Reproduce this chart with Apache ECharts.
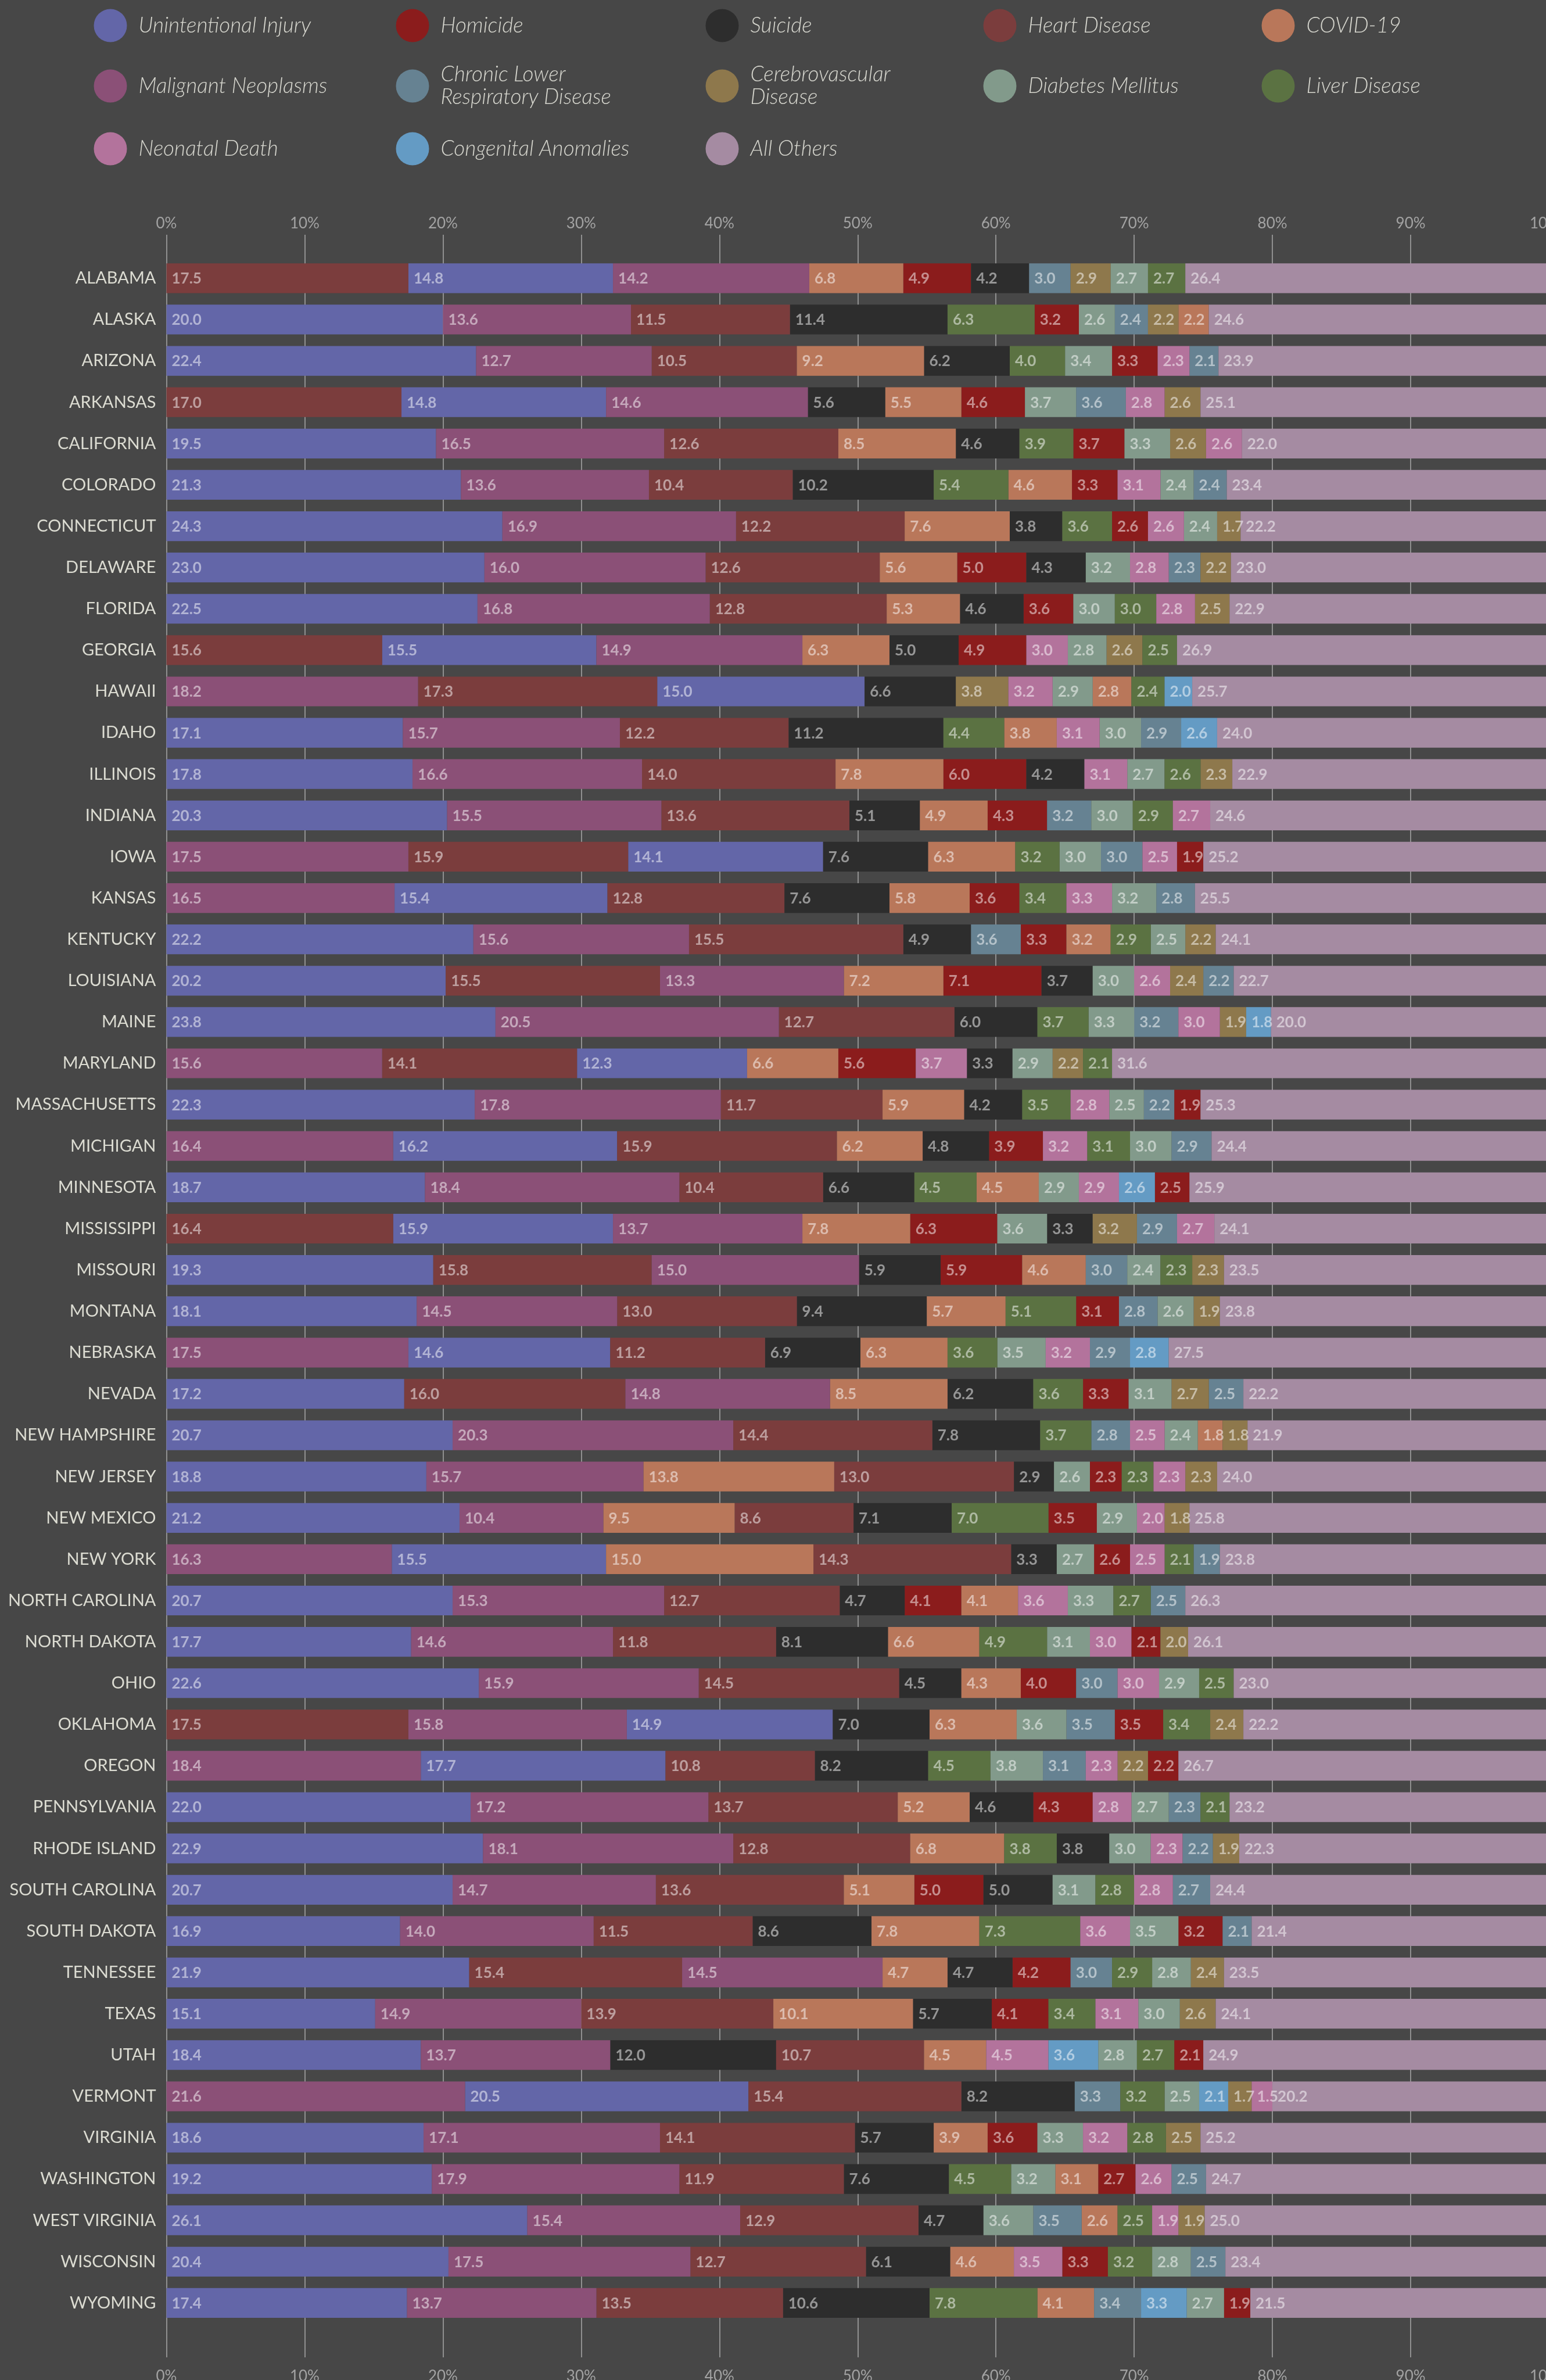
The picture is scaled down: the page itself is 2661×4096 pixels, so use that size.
<!DOCTYPE html>
<html>
<head>
    <meta charset="utf-8">
    <title>Leading causes of death, by state</title>
    <script src="https://cdn.jsdelivr.net/npm/echarts@6/dist/echarts.min.js"></script>
    <style>
        html, body { margin: 0; padding: 0; background: #474747; }
        #main { width: 2661px; height: 4096px; }
    </style>
</head>
<body>
    <div id="main"></div>
    <script>
        var states = ['ALABAMA', 'ALASKA', 'ARIZONA', 'ARKANSAS', 'CALIFORNIA', 'COLORADO', 'CONNECTICUT', 'DELAWARE', 'FLORIDA', 'GEORGIA',
            'HAWAII', 'IDAHO', 'ILLINOIS', 'INDIANA', 'IOWA', 'KANSAS', 'KENTUCKY', 'LOUISIANA', 'MAINE', 'MARYLAND',
            'MASSACHUSETTS', 'MICHIGAN', 'MINNESOTA', 'MISSISSIPPI', 'MISSOURI', 'MONTANA', 'NEBRASKA', 'NEVADA', 'NEW HAMPSHIRE', 'NEW JERSEY',
            'NEW MEXICO', 'NEW YORK', 'NORTH CAROLINA', 'NORTH DAKOTA', 'OHIO', 'OKLAHOMA', 'OREGON', 'PENNSYLVANIA', 'RHODE ISLAND', 'SOUTH CAROLINA',
            'SOUTH DAKOTA', 'TENNESSEE', 'TEXAS', 'UTAH', 'VERMONT', 'VIRGINIA', 'WASHINGTON', 'WEST VIRGINIA', 'WISCONSIN', 'WYOMING'];

        // cause codes, in legend order
        var causeCodes = ['U', 'HO', 'S', 'HD', 'C', 'M', 'CL', 'CV', 'D', 'L', 'N', 'CA', 'O'];
        var causeNames = ['Unintentional Injury', 'Homicide', 'Suicide', 'Heart Disease', 'COVID-19',
            'Malignant Neoplasms', 'Chronic Lower Respiratory Disease', 'Cerebrovascular Disease', 'Diabetes Mellitus', 'Liver Disease',
            'Neonatal Death', 'Congenital Anomalies', 'All Others'];
        var causeLabels = ['Unintentional Injury', 'Homicide', 'Suicide', 'Heart Disease', 'COVID-19',
            'Malignant Neoplasms', 'Chronic Lower\nRespiratory Disease', 'Cerebrovascular\nDisease', 'Diabetes Mellitus', 'Liver Disease',
            'Neonatal Death', 'Congenital Anomalies', 'All Others'];
        var causeColors = ['#6366a8', '#8b1c1c', '#2d2d2d', '#7b3d3d', '#b9775a',
            '#8b5077', '#668292', '#8e784c', '#829a8b', '#5b7242',
            '#b3739c', '#649bc4', '#a58ba2'];

        // order of segments per state (left to right) and their shares (%)
        var segOrder = [
            'HD U M C HO S CL CV D L O',
            'U M HD S L HO D CL CV C O',
            'U M HD C S L D HO N CL O',
            'HD U M S C HO D CL N CV O',
            'U M HD C S L HO D CV N O',
            'U M HD S L C HO N D CL O',
            'U M HD C S L HO N D CV O',
            'U M HD C HO S D N CL CV O',
            'U M HD C S HO D L N CV O',
            'HD U M C S HO N D CV L O',
            'M HD U S CV N D C L CA O',
            'U M HD S L C N D CL CA O',
            'U M HD C HO S N D L CV O',
            'U M HD S C HO CL D L N O',
            'M HD U S C L D CL N HO O',
            'M U HD S C HO L N D CL O',
            'U M HD S CL HO C L D CV O',
            'U HD M C HO S D N CV CL O',
            'U M HD S L D CL N CV CA O',
            'M HD U C HO N S D CV L O',
            'U M HD C S L N D CL HO O',
            'M U HD C S HO N L D CL O',
            'U M HD S L C D N CA HO O',
            'HD U M C HO D S CV CL N O',
            'U HD M S HO C CL D L CV O',
            'U M HD S C L HO CL D CV O',
            'M U HD S C L D N CL CA O',
            'U HD M C S L HO D CV CL O',
            'U M HD S L CL N D C CV O',
            'U M C HD S D HO L N CV O',
            'U M C HD S L HO D N CV O',
            'M U C HD S D HO N L CL O',
            'U M HD S HO C N D L CL O',
            'U M HD S C L D N HO CV O',
            'U M HD S C HO CL N D L O',
            'HD M U S C D CL HO L CV O',
            'M U HD S L D CL N CV HO O',
            'U M HD C S HO N D CL L O',
            'U M HD C L S D N CL CV O',
            'U M HD C HO S D L N CL O',
            'U M HD S C L N D HO CL O',
            'U HD M C S HO CL L D CV O',
            'U M HD C S HO L N D CV O',
            'U M S HD C N CA D L HO O',
            'M U HD S CL L D CA CV N O',
            'U M HD S C HO D N L CV O',
            'U M HD S L D C HO N CL O',
            'U M HD S D CL C L N CV O',
            'U M HD S C N HO L D CL O',
            'U M HD S L C CL CA D HO O'
        ];
        var segShare = [
            [17.5, 14.8, 14.2, 6.8, 4.9, 4.2, 3.0, 2.9, 2.7, 2.7, 26.4],
            [20.0, 13.6, 11.5, 11.4, 6.3, 3.2, 2.6, 2.4, 2.2, 2.2, 24.6],
            [22.4, 12.7, 10.5, 9.2, 6.2, 4.0, 3.4, 3.3, 2.3, 2.1, 23.9],
            [17.0, 14.8, 14.6, 5.6, 5.5, 4.6, 3.7, 3.6, 2.8, 2.6, 25.1],
            [19.5, 16.5, 12.6, 8.5, 4.6, 3.9, 3.7, 3.3, 2.6, 2.6, 22.0],
            [21.3, 13.6, 10.4, 10.2, 5.4, 4.6, 3.3, 3.1, 2.4, 2.4, 23.4],
            [24.3, 16.9, 12.2, 7.6, 3.8, 3.6, 2.6, 2.6, 2.4, 1.7, 22.2],
            [23.0, 16.0, 12.6, 5.6, 5.0, 4.3, 3.2, 2.8, 2.3, 2.2, 23.0],
            [22.5, 16.8, 12.8, 5.3, 4.6, 3.6, 3.0, 3.0, 2.8, 2.5, 22.9],
            [15.6, 15.5, 14.9, 6.3, 5.0, 4.9, 3.0, 2.8, 2.6, 2.5, 26.9],
            [18.2, 17.3, 15.0, 6.6, 3.8, 3.2, 2.9, 2.8, 2.4, 2.0, 25.7],
            [17.1, 15.7, 12.2, 11.2, 4.4, 3.8, 3.1, 3.0, 2.9, 2.6, 24.0],
            [17.8, 16.6, 14.0, 7.8, 6.0, 4.2, 3.1, 2.7, 2.6, 2.3, 22.9],
            [20.3, 15.5, 13.6, 5.1, 4.9, 4.3, 3.2, 3.0, 2.9, 2.7, 24.6],
            [17.5, 15.9, 14.1, 7.6, 6.3, 3.2, 3.0, 3.0, 2.5, 1.9, 25.2],
            [16.5, 15.4, 12.8, 7.6, 5.8, 3.6, 3.4, 3.3, 3.2, 2.8, 25.5],
            [22.2, 15.6, 15.5, 4.9, 3.6, 3.3, 3.2, 2.9, 2.5, 2.2, 24.1],
            [20.2, 15.5, 13.3, 7.2, 7.1, 3.7, 3.0, 2.6, 2.4, 2.2, 22.7],
            [23.8, 20.5, 12.7, 6.0, 3.7, 3.3, 3.2, 3.0, 1.9, 1.8, 20.0],
            [15.6, 14.1, 12.3, 6.6, 5.6, 3.7, 3.3, 2.9, 2.2, 2.1, 31.6],
            [22.3, 17.8, 11.7, 5.9, 4.2, 3.5, 2.8, 2.5, 2.2, 1.9, 25.3],
            [16.4, 16.2, 15.9, 6.2, 4.8, 3.9, 3.2, 3.1, 3.0, 2.9, 24.4],
            [18.7, 18.4, 10.4, 6.6, 4.5, 4.5, 2.9, 2.9, 2.6, 2.5, 25.9],
            [16.4, 15.9, 13.7, 7.8, 6.3, 3.6, 3.3, 3.2, 2.9, 2.7, 24.1],
            [19.3, 15.8, 15.0, 5.9, 5.9, 4.6, 3.0, 2.4, 2.3, 2.3, 23.5],
            [18.1, 14.5, 13.0, 9.4, 5.7, 5.1, 3.1, 2.8, 2.6, 1.9, 23.8],
            [17.5, 14.6, 11.2, 6.9, 6.3, 3.6, 3.5, 3.2, 2.9, 2.8, 27.5],
            [17.2, 16.0, 14.8, 8.5, 6.2, 3.6, 3.3, 3.1, 2.7, 2.5, 22.2],
            [20.7, 20.3, 14.4, 7.8, 3.7, 2.8, 2.5, 2.4, 1.8, 1.8, 21.9],
            [18.8, 15.7, 13.8, 13.0, 2.9, 2.6, 2.3, 2.3, 2.3, 2.3, 24.0],
            [21.2, 10.4, 9.5, 8.6, 7.1, 7.0, 3.5, 2.9, 2.0, 1.8, 25.8],
            [16.3, 15.5, 15.0, 14.3, 3.3, 2.7, 2.6, 2.5, 2.1, 1.9, 23.8],
            [20.7, 15.3, 12.7, 4.7, 4.1, 4.1, 3.6, 3.3, 2.7, 2.5, 26.3],
            [17.7, 14.6, 11.8, 8.1, 6.6, 4.9, 3.1, 3.0, 2.1, 2.0, 26.1],
            [22.6, 15.9, 14.5, 4.5, 4.3, 4.0, 3.0, 3.0, 2.9, 2.5, 23.0],
            [17.5, 15.8, 14.9, 7.0, 6.3, 3.6, 3.5, 3.5, 3.4, 2.4, 22.2],
            [18.4, 17.7, 10.8, 8.2, 4.5, 3.8, 3.1, 2.3, 2.2, 2.2, 26.7],
            [22.0, 17.2, 13.7, 5.2, 4.6, 4.3, 2.8, 2.7, 2.3, 2.1, 23.2],
            [22.9, 18.1, 12.8, 6.8, 3.8, 3.8, 3.0, 2.3, 2.2, 1.9, 22.3],
            [20.7, 14.7, 13.6, 5.1, 5.0, 5.0, 3.1, 2.8, 2.8, 2.7, 24.4],
            [16.9, 14.0, 11.5, 8.6, 7.8, 7.3, 3.6, 3.5, 3.2, 2.1, 21.4],
            [21.9, 15.4, 14.5, 4.7, 4.7, 4.2, 3.0, 2.9, 2.8, 2.4, 23.5],
            [15.1, 14.9, 13.9, 10.1, 5.7, 4.1, 3.4, 3.1, 3.0, 2.6, 24.1],
            [18.4, 13.7, 12.0, 10.7, 4.5, 4.5, 3.6, 2.8, 2.7, 2.1, 24.9],
            [21.6, 20.5, 15.4, 8.2, 3.3, 3.2, 2.5, 2.1, 1.7, 1.5, 20.2],
            [18.6, 17.1, 14.1, 5.7, 3.9, 3.6, 3.3, 3.2, 2.8, 2.5, 25.2],
            [19.2, 17.9, 11.9, 7.6, 4.5, 3.2, 3.1, 2.7, 2.6, 2.5, 24.7],
            [26.1, 15.4, 12.9, 4.7, 3.6, 3.5, 2.6, 2.5, 1.9, 1.9, 25.0],
            [20.4, 17.5, 12.7, 6.1, 4.6, 3.5, 3.3, 3.2, 2.8, 2.5, 23.4],
            [17.4, 13.7, 13.5, 10.6, 7.8, 4.1, 3.4, 3.3, 2.7, 1.9, 21.5]
        ];
        var xTicks = [0, 10, 20, 30, 40, 50, 60, 70, 80, 90, 100];

        var FONT = 'Lato, "Open Sans", sans-serif';
        var myChart = echarts.init(document.getElementById('main'));

        // one [start, end, stateIndex, share] list per cause
        var causeData = causeCodes.map(function () { return []; });
        segOrder.forEach(function (row, i) {
            var codes = row.split(' ');
            var start = 0;
            codes.forEach(function (code, j) {
                var v = segShare[i][j];
                causeData[causeCodes.indexOf(code)].push([start, start + v, i, v]);
                start += v;
            });
        });

        function renderSeg(params, api) {
            var cat = api.value(2);
            var a = api.coord([api.value(0), cat]);
            var b = api.coord([api.value(1), cat]);
            var h = api.size([0, 1])[1] * 0.72;
            return {
                type: 'group',
                children: [
                    {
                        type: 'rect',
                        shape: { x: a[0], y: a[1] - h / 2, width: b[0] - a[0], height: h },
                        style: { fill: api.visual('color') },
                        z2: 0
                    },
                    {
                        type: 'text',
                        x: a[0] + 9,
                        y: a[1] + 1,
                        style: {
                            text: api.value(3).toFixed(1),
                            fill: 'rgba(255,255,255,0.5)',
                            fontSize: 26,
                            fontFamily: FONT,
                            fontWeight: 'bold',
                            align: 'left',
                            verticalAlign: 'middle'
                        },
                        z2: 100
                    }
                ]
            };
        }

        var colX = [190, 710, 1243, 1721, 2200];
        var rowY = [44, 148, 256];
        var legends = causeNames.map(function (name, k) {
            var lines = causeLabels[k].split('\n').length;
            var half = Math.max(28.5, lines * 39 / 2);
            return {
                data: [name],
                left: colX[k % 5] - 28.5,
                top: rowY[Math.floor(k / 5)] - half,
                padding: 0,
                icon: 'circle',
                itemWidth: 57,
                itemHeight: 57,
                selectedMode: false,
                formatter: function () { return causeLabels[k]; },
                textStyle: {
                    color: '#d6d6ce',
                    fontSize: 37,
                    lineHeight: 39,
                    fontStyle: 'italic',
                    fontWeight: 300,
                    fontFamily: FONT,
                    padding: [0, 0, 0, 15]
                }
            };
        });

        var axisLabelStyle = {
            color: '#a3a3a3',
            fontSize: 26,
            fontFamily: FONT,
            customValues: xTicks,
            formatter: '{value}%'
        };

        var option = {
            backgroundColor: '#474747',
            animation: false,
            legend: legends,
            grid: [
                { left: 286.5, right: -5, top: 404, bottom: 39, outerBoundsMode: 'none', containLabel: false },
                { left: 286.5, right: -5, top: 443.3, bottom: 97, outerBoundsMode: 'none', containLabel: false }
            ],
            xAxis: [
                {
                    gridIndex: 0, type: 'value', position: 'top', min: 0, max: 100, interval: 10,
                    axisLine: { show: false }, axisTick: { show: false },
                    axisLabel: Object.assign({ margin: 6 }, axisLabelStyle),
                    splitLine: { show: true, lineStyle: { color: '#a8a8a8', width: 1.5 } }
                },
                {
                    gridIndex: 0, type: 'value', position: 'bottom', min: 0, max: 100, interval: 10,
                    axisLine: { show: false }, axisTick: { show: false },
                    axisLabel: Object.assign({ margin: 20 }, axisLabelStyle),
                    splitLine: { show: false }
                },
                { gridIndex: 1, type: 'value', min: 0, max: 100, show: false, splitLine: { show: false } }
            ],
            yAxis: [
                { gridIndex: 0, type: 'value', show: false, splitLine: { show: false } },
                {
                    gridIndex: 1, type: 'category', inverse: true, data: states,
                    axisLine: { show: false }, axisTick: { show: false },
                    axisLabel: { color: '#dcdcd2', fontSize: 29, fontFamily: FONT, margin: 18 }
                }
            ],
            series: causeNames.map(function (name, k) {
                return {
                    name: name,
                    type: 'custom',
                    xAxisIndex: 2,
                    yAxisIndex: 1,
                    itemStyle: { color: causeColors[k] },
                    encode: { x: [0, 1], y: 2 },
                    renderItem: renderSeg,
                    data: causeData[k]
                };
            })
        };
        myChart.setOption(option);
    </script>
</body>
</html>
